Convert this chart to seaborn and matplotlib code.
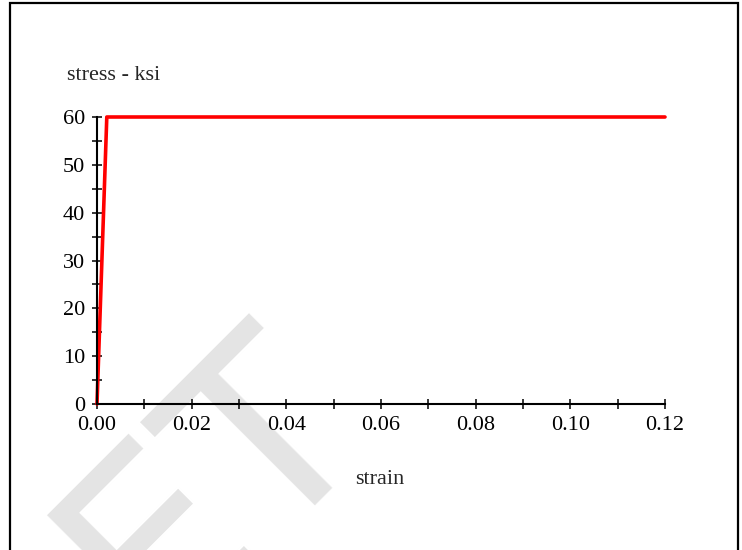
import numpy as np
import pandas as pd
import matplotlib
matplotlib.use("Agg")
import matplotlib.pyplot as plt
import seaborn as sns
from matplotlib.patches import Rectangle

# bilinear steel stress-strain curve (ksi)
strain = [0.0, 0.00207, 0.12]
stress = [0.0, 60.0, 60.0]

x_ticks = [0.00, 0.02, 0.04, 0.06, 0.08, 0.10, 0.12]
x_labels = ["0.00", "0.02", "0.04", "0.06", "0.08", "0.10", "0.12"]
y_ticks = [0, 10, 20, 30, 40, 50, 60]

sns.set_style("white")
plt.rcParams['font.family'] = ['Liberation Serif', 'DejaVu Serif']

df = pd.DataFrame({"strain": strain, "stress": stress})

fig = plt.figure(figsize=(7.42, 5.5), dpi=100)
ax = fig.add_axes([97/742, 1-404/550, (665-97)/742, (404-117)/550])
ax.patch.set_alpha(0)

# watermark behind everything
fig.text(212/742, 1-485/550, "ET", rotation=45, rotation_mode="anchor",
         ha="center", va="center", fontsize=180, color="#e4e4e4",
         family="DejaVu Sans", zorder=-10)

# outer frame
fig.patches.append(Rectangle((10/742, -0.05), 728/742, 1.05 - 3/550,
                             transform=fig.transFigure, fill=False,
                             edgecolor="black", linewidth=1.6))

sns.lineplot(data=df, x="strain", y="stress", color="#ff0000",
             linewidth=2.6, ax=ax, estimator=None, sort=False)
for ln in ax.lines:
    ln.set_clip_on(False)

ax.set_xlim(0, 0.12)
ax.set_ylim(0, 60)
ax.set_xticks(x_ticks)
ax.set_xticklabels(x_labels)
ax.set_xticks(np.arange(0.01, 0.12, 0.02), minor=True)
ax.set_yticks(y_ticks)
ax.set_yticks(np.arange(5, 60, 10), minor=True)
ax.tick_params(which="both", direction="inout", length=7, width=1.1,
               colors="black", labelsize=16, pad=5)
ax.tick_params(axis="both", which="both", bottom=True, left=True)

sns.despine(ax=ax)
for s in ["left", "bottom"]:
    ax.spines[s].set_color("black")
    ax.spines[s].set_linewidth(1.5)

ax.set_xlabel("")
ax.set_ylabel("")
fig.text(67/742, 1-76/550, "stress - ksi", ha="left", va="center", fontsize=16)
fig.text(380/742, 1-479/550, "strain", ha="center", va="center", fontsize=16)

fig.savefig("out.png", dpi=100)
